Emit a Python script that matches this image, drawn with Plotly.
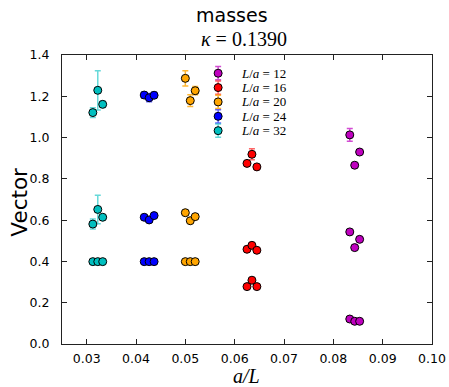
import plotly.graph_objects as go

# ---------------- data ----------------
L_values = [12, 16, 20, 24, 32]
colors = ["#bf00bf", "#ff0000", "#ffa500", "#0000ff", "#00bfbf"]
err_colors = ["rgba(191,0,191,0.7)", "rgba(255,0,0,0.6)", "rgba(255,165,0,0.8)",
              "rgba(0,0,255,0.6)", "rgba(0,191,191,0.6)"]
shifts = [0.0, 0.001, 0.002]  # small horizontal shifts of the three fits

# masses per L: [level][shift]
level0 = {12: [0.121, 0.110, 0.110], 16: [0.278, 0.309, 0.278], 20: [0.399, 0.399, 0.399],
          24: [0.399, 0.399, 0.399], 32: [0.399, 0.399, 0.399]}
level1 = {12: [0.543, 0.467, 0.507], 16: [0.459, 0.478, 0.454], 20: [0.636, 0.597, 0.617],
          24: [0.614, 0.601, 0.622], 32: [0.581, 0.652, 0.614]}
level2 = {12: [1.013, 0.866, 0.930], 16: [0.875, 0.919, 0.858], 20: [1.287, 1.179, 1.227],
          24: [1.206, 1.193, 1.205], 32: [1.121, 1.229, 1.161]}
err0 = {12: [0.004, 0.004, 0.004], 16: [0.004, 0.004, 0.004], 20: [0.003, 0.003, 0.003],
        24: [0.003, 0.003, 0.003], 32: [0.003, 0.003, 0.003]}
err1 = {12: [0.008, 0.008, 0.008], 16: [0.006, 0.006, 0.006], 20: [0.008, 0.008, 0.008],
        24: [0.008, 0.010, 0.008], 32: [0.024, 0.069, 0.010]}
err2 = {12: [0.031, 0.010, 0.010], 16: [0.010, 0.027, 0.010], 20: [0.037, 0.028, 0.020],
        24: [0.015, 0.020, 0.015], 32: [0.024, 0.095, 0.015]}

x_ticks = [0.03, 0.04, 0.05, 0.06, 0.07, 0.08, 0.09, 0.10]
y_ticks = [0.0, 0.2, 0.4, 0.6, 0.8, 1.0, 1.2, 1.4]

# ---------------- figure ----------------
fig = go.Figure()

for L, c, ec in zip(L_values, colors, err_colors):
    xs, ys, es = [], [], []
    for lev, err in ((level0, err0), (level1, err1), (level2, err2)):
        for s, v, e in zip(shifts, lev[L], err[L]):
            xs.append(1.0 / L + s)
            ys.append(v)
            es.append(e)
    fig.add_trace(go.Scatter(
        x=xs, y=ys, mode="markers", showlegend=False,
        marker=dict(color=c, size=8, line=dict(color="black", width=1)),
        error_y=dict(type="data", array=es, color=ec, thickness=1.5, width=3),
    ))

# custom legend (drawn on an overlay axis spanning the plot area)
leg_x = 0.422
leg_y0 = 0.937
leg_step = 0.0497
leg_ys = [leg_y0 - i * leg_step for i in range(len(L_values))]
for L, c, ec, ly in zip(L_values, colors, err_colors, leg_ys):
    fig.add_trace(go.Scatter(
        x=[leg_x], y=[ly], xaxis="x2", yaxis="y2", mode="markers", showlegend=False,
        marker=dict(color=c, size=8, line=dict(color="black", width=1)),
        error_y=dict(type="constant", value=0.023, color=ec, thickness=1.5, width=3),
        hoverinfo="skip",
    ))
    fig.add_annotation(
        x=0.478, y=ly, xref="paper", yref="paper", xanchor="left", yanchor="middle",
        text=f"<i>L</i>/<i>a</i> = {L}", showarrow=False,
        font=dict(family="Liberation Serif", size=13, color="black"),
    )

axis_common = dict(
    showgrid=False, zeroline=False, showline=True, linecolor="#222", linewidth=1,
    mirror="ticks", ticks="inside", ticklen=5, tickwidth=1, tickcolor="#222",
    tickfont=dict(family="DejaVu Sans", size=12.5, color="black"), automargin=False,
)

fig.update_layout(
    width=449, height=387,
    margin=dict(l=62, r=17, t=55, b=43),
    paper_bgcolor="white", plot_bgcolor="white",
    xaxis=dict(range=[0.025, 0.10], tickvals=x_ticks, tickformat=".2f",
               ticklabelstandoff=3, **axis_common),
    yaxis=dict(range=[0, 1.4], tickvals=y_ticks, tickformat=".1f",
               ticklabelstandoff=9, **axis_common),
    xaxis2=dict(overlaying="x", range=[0, 1], visible=False),
    yaxis2=dict(overlaying="y", range=[0, 1], visible=False),
)

# titles and axis labels
fig.add_annotation(x=0.46, y=1.138, xref="paper", yref="paper", text="masses",
                   showarrow=False, xanchor="center", yanchor="middle",
                   font=dict(family="DejaVu Sans", size=19, color="black"))
fig.add_annotation(x=0.492, y=1.055, xref="paper", yref="paper",
                   text="<i>κ</i> = 0.1390", showarrow=False,
                   xanchor="center", yanchor="middle",
                   font=dict(family="Liberation Serif", size=20, color="black"))
fig.add_annotation(x=-0.114, y=0.492, xref="paper", yref="paper", text="Vector",
                   showarrow=False, textangle=-90, xanchor="center", yanchor="middle",
                   font=dict(family="DejaVu Sans", size=21.5, color="black"))
fig.add_annotation(x=0.498, y=-0.111, xref="paper", yref="paper",
                   text="a/L", showarrow=False,
                   xanchor="center", yanchor="middle",
                   font=dict(family="Liberation Serif", size=20, color="black",
                             style="italic"))

fig.write_html("out.html")
